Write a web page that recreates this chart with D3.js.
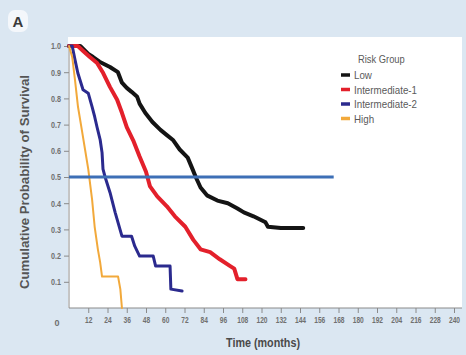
<!DOCTYPE html>
<html>
<head>
<meta charset="utf-8">
<script src="https://cdn.jsdelivr.net/npm/d3@7"></script>
<style>
  html, body { margin: 0; padding: 0; background: #dbe7f2; }
  svg { display: block; }
  text { font-family: "Liberation Sans", Arial, sans-serif; }
</style>
</head>
<body>
<svg id="chart" width="466" height="355"></svg>
<script>
// Kaplan-Meier survival by risk group: [months, cumulative survival]
const lowCurve = [
  [0, 1.0], [7, 1.0], [12, 0.97], [15, 0.958], [19, 0.94], [25.5, 0.92], [30.5, 0.90],
  [33, 0.86], [36, 0.84], [39, 0.825], [42.5, 0.806], [44, 0.78], [47.5, 0.745],
  [52, 0.71], [57, 0.68], [61, 0.66], [65, 0.64], [69, 0.605], [74, 0.574],
  [77, 0.53], [79, 0.50], [82, 0.46], [86, 0.43], [92.5, 0.41], [99, 0.40],
  [105, 0.38], [109, 0.365], [115, 0.35], [122.5, 0.327], [124, 0.31],
  [132, 0.305], [146, 0.305]
];
const int1Curve = [
  [0, 1.0], [5.5, 1.0], [9, 0.98], [13, 0.958], [17.5, 0.935], [21, 0.90], [25.5, 0.844],
  [30, 0.795], [33, 0.745], [36, 0.69], [40, 0.64], [44, 0.578], [48, 0.52],
  [50.5, 0.464], [55, 0.426], [61, 0.388], [66, 0.35], [72.5, 0.31], [77.5, 0.26],
  [82, 0.224], [88, 0.213], [94, 0.186], [100.5, 0.16], [103, 0.15], [105, 0.11], [110, 0.11]
];
const int2Curve = [
  [0, 1.0], [2, 1.0], [3.75, 0.947], [5.5, 0.897], [8.75, 0.833], [12, 0.82],
  [14.4, 0.768], [16, 0.73], [17.5, 0.69], [19.4, 0.643], [20.6, 0.593], [21.2, 0.53],
  [22.5, 0.50], [25.6, 0.44], [28.75, 0.365], [33, 0.274], [39, 0.274], [41, 0.236],
  [44, 0.198], [52.5, 0.198], [54, 0.16], [63, 0.16], [63.5, 0.072], [70.5, 0.065]
];
const highCurve = [
  [0, 1.0], [2, 0.958], [3.75, 0.87], [5.6, 0.768], [8, 0.68], [10, 0.605],
  [12, 0.53], [14.4, 0.414], [16, 0.31], [18, 0.224], [19.4, 0.175], [20.6, 0.12],
  [30.6, 0.12], [32, 0.072], [33, 0.0]
];

const groupNames = ["Low", "Intermediate-1", "Intermediate-2", "High"];
const groupColors = ["#141414", "#e3202b", "#2b2a8e", "#f2a93b"];
const groupWidths = [4, 4, 3, 2];
const curves = [lowCurve, int1Curve, int2Curve, highCurve];

const xTicks = [12, 24, 36, 48, 60, 72, 84, 96, 108, 120, 132, 144, 156, 168, 180, 192, 204, 216, 228, 240];
const yTicks = [0.1, 0.2, 0.3, 0.4, 0.5, 0.6, 0.7, 0.8, 0.9, 1.0];
const medianLevel = 0.5;
const medianLineEnd = 165;

const svg = d3.select("#chart");

const x = d3.scaleLinear().domain([0, 240]).range([69, 454]);
const y = d3.scaleLinear().domain([0, 1]).range([308, 46]);

// squeeze a text element horizontally to mimic a condensed face
function condense(sel, k) {
  sel.each(function () {
    const w = this.getComputedTextLength();
    d3.select(this).attr("textLength", w * k).attr("lengthAdjust", "spacingAndGlyphs");
  });
}

// panel label
svg.append("rect").attr("x", 8).attr("y", 10).attr("width", 20).attr("height", 22)
  .attr("rx", 7).attr("fill", "#f4f7fb");
svg.append("text").attr("x", 18).attr("y", 27).attr("text-anchor", "middle")
  .attr("font-size", 15).attr("font-weight", "bold").attr("fill", "#3a3a3a").text("A");

// plotting panel
svg.append("rect").attr("x", 68).attr("y", 37).attr("width", 394).attr("height", 271)
  .attr("fill", "#ffffff");

// y axis
const yAxis = d3.axisLeft(y).tickValues(yTicks).tickSize(5).tickPadding(3)
  .tickFormat(d3.format(".1f"));
const gy = svg.append("g").attr("transform", "translate(69,0)").call(yAxis);
gy.select(".domain").attr("d", `M0,${y(1.0)}V${y(0)}`).attr("stroke", "#8a8a8a");
gy.selectAll(".tick line").attr("stroke", "#8a8a8a");
gy.selectAll(".tick text").attr("font-size", 9).attr("font-weight", "bold").attr("fill", "#707070")
  .call(condense, 0.8);

// x axis
const xAxis = d3.axisBottom(x).tickValues(xTicks).tickSize(5).tickPadding(4);
const gx = svg.append("g").attr("transform", `translate(0,${y(0)})`).call(xAxis);
gx.select(".domain").attr("d", `M${x(0)},0H462`).attr("stroke", "#8a8a8a");
gx.selectAll(".tick line").attr("stroke", "#8a8a8a");
gx.selectAll(".tick text").attr("font-size", 8.5).attr("font-weight", "bold").attr("fill", "#707070")
  .call(condense, 0.78);

// origin label
svg.append("text").attr("x", 57).attr("y", 326).attr("text-anchor", "middle")
  .attr("font-size", 9).attr("font-weight", "bold").attr("fill", "#707070").text("0");

// axis titles
svg.append("text").attr("transform", "translate(29,182) rotate(-90)").attr("text-anchor", "middle")
  .attr("font-size", 12).attr("font-weight", "bold").attr("fill", "#555555")
  .attr("textLength", 214).attr("lengthAdjust", "spacingAndGlyphs")
  .text("Cumulative Probability of Survival");
svg.append("text").attr("x", 263).attr("y", 347).attr("text-anchor", "middle")
  .attr("font-size", 12).attr("font-weight", "bold").attr("fill", "#4a4a4a")
  .attr("textLength", 74).attr("lengthAdjust", "spacingAndGlyphs")
  .text("Time (months)");

// survival curves
const line = d3.line().x(d => x(d[0])).y(d => y(d[1]));
curves.forEach((c, i) => {
  svg.append("path").datum(c).attr("d", line)
    .attr("fill", "none").attr("stroke", groupColors[i]).attr("stroke-width", groupWidths[i])
    .attr("stroke-linejoin", "round").attr("stroke-linecap", "round");
});

// median survival reference line
svg.append("line").attr("x1", x(0)).attr("x2", x(medianLineEnd))
  .attr("y1", y(medianLevel)).attr("y2", y(medianLevel))
  .attr("stroke", "#3d6fb6").attr("stroke-width", 3);

// legend
const legend = svg.append("g").attr("transform", "translate(341,60)");
legend.append("text").attr("x", 17).attr("y", 3).attr("font-size", 11).attr("fill", "#5a5a5a")
  .text("Risk Group").call(condense, 0.85);
groupNames.forEach((name, i) => {
  const ly = 15 + i * 14.5;
  legend.append("line").attr("x1", 0).attr("x2", 9).attr("y1", ly).attr("y2", ly)
    .attr("stroke", groupColors[i]).attr("stroke-width", 3.5);
  legend.append("text").attr("x", 13).attr("y", ly + 4).attr("font-size", 11.5).attr("fill", "#5a5a5a")
    .text(name).call(condense, 0.85);
});
</script>
</body>
</html>
